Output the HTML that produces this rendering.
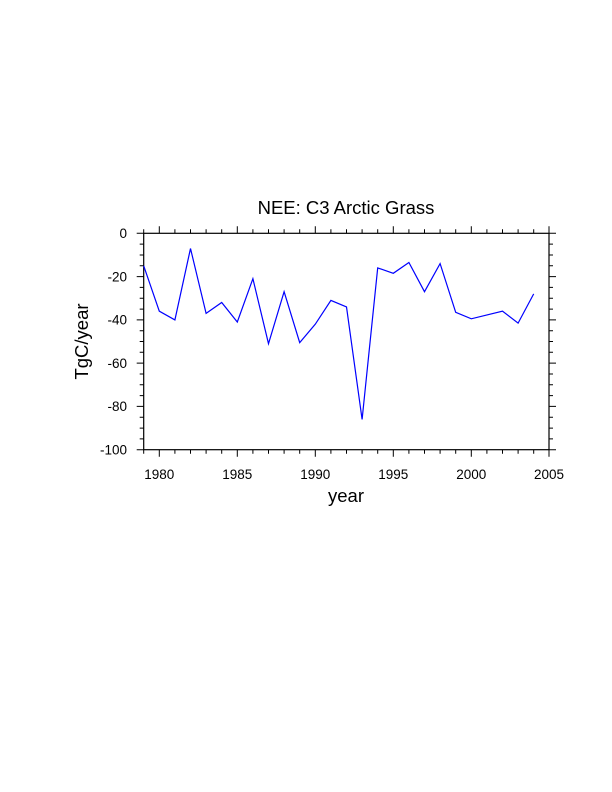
<!DOCTYPE html>
<html><head><style>body{margin:0;background:#fff}svg{display:block}</style></head><body>
<svg width="612" height="792" xmlns="http://www.w3.org/2000/svg" font-family="Liberation Sans, sans-serif">
<g stroke="#000" stroke-width="1">
<path d="M143.7 233.3v-4M159.3 233.3v-7M174.9 233.3v-4M190.5 233.3v-4M206.1 233.3v-4M221.7 233.3v-4M237.3 233.3v-7M252.9 233.3v-4M268.5 233.3v-4M284.1 233.3v-4M299.7 233.3v-4M315.3 233.3v-7M330.9 233.3v-4M346.5 233.3v-4M362.1 233.3v-4M377.7 233.3v-4M393.3 233.3v-7M408.9 233.3v-4M424.5 233.3v-4M440.1 233.3v-4M455.7 233.3v-4M471.3 233.3v-7M486.9 233.3v-4M502.5 233.3v-4M518.1 233.3v-4M533.7 233.3v-4M549 233.3v-7"/>
<path d="M143.7 449.7v4M159.3 449.7v7M174.9 449.7v4M190.5 449.7v4M206.1 449.7v4M221.7 449.7v4M237.3 449.7v7M252.9 449.7v4M268.5 449.7v4M284.1 449.7v4M299.7 449.7v4M315.3 449.7v7M330.9 449.7v4M346.5 449.7v4M362.1 449.7v4M377.7 449.7v4M393.3 449.7v7M408.9 449.7v4M424.5 449.7v4M440.1 449.7v4M455.7 449.7v4M471.3 449.7v7M486.9 449.7v4M502.5 449.7v4M518.1 449.7v4M533.7 449.7v4M549 449.7v7"/>
<path d="M143.7 233.3h-7M143.7 244.1h-4M143.7 255h-4M143.7 265.8h-4M143.7 276.6h-7M143.7 287.4h-4M143.7 298.2h-4M143.7 309.1h-4M143.7 319.9h-7M143.7 330.7h-4M143.7 341.5h-4M143.7 352.3h-4M143.7 363.1h-7M143.7 374h-4M143.7 384.8h-4M143.7 395.6h-4M143.7 406.4h-7M143.7 417.2h-4M143.7 428.1h-4M143.7 438.9h-4M143.7 449.7h-7"/>
<path d="M549 233.3h7M549 244.1h4M549 255h4M549 265.8h4M549 276.6h7M549 287.4h4M549 298.2h4M549 309.1h4M549 319.9h7M549 330.7h4M549 341.5h4M549 352.3h4M549 363.1h7M549 374h4M549 384.8h4M549 395.6h4M549 406.4h7M549 417.2h4M549 428.1h4M549 438.9h4M549 449.7h7"/>
</g>
<rect x="143.7" y="233.3" width="405.3" height="216.4" fill="none" stroke="#000" stroke-width="1.2"/>
<polyline fill="none" stroke="#0000ff" stroke-width="1.2" points="
143.7,265.8 159.3,311.2 174.9,319.9 190.5,248.5 206.1,313.4 221.7,302.5 237.3,322.0 252.9,278.7 268.5,343.7 284.1,291.7 299.7,342.6 315.3,324.2 330.9,300.4 346.5,306.9 362.1,419.4 377.7,267.9 393.3,273.3 408.9,262.5 424.5,291.7 440.1,263.6 455.7,312.3 471.3,318.8 502.5,311.2 518.1,323.1 533.7,293.9"/>
<text x="346" y="214" font-size="18.5" text-anchor="middle">NEE: C3 Arctic Grass</text>
<g font-size="13.5" text-anchor="middle">
<text x="159.3" y="479">1980</text><text x="237.3" y="479">1985</text><text x="315.3" y="479">1990</text>
<text x="393.3" y="479">1995</text><text x="471.3" y="479">2000</text><text x="549" y="479">2005</text>
</g>
<g font-size="13.5" text-anchor="end">
<text x="127" y="238">0</text><text x="127" y="281.5">-20</text><text x="127" y="324.5">-40</text>
<text x="127" y="368">-60</text><text x="127" y="411">-80</text><text x="127" y="454.5">-100</text>
</g>
<text x="346" y="502" font-size="18.5" text-anchor="middle">year</text>
<text transform="translate(88,341.5) rotate(-90)" font-size="18.5" text-anchor="middle">TgC/year</text>
</svg>
</body></html>
